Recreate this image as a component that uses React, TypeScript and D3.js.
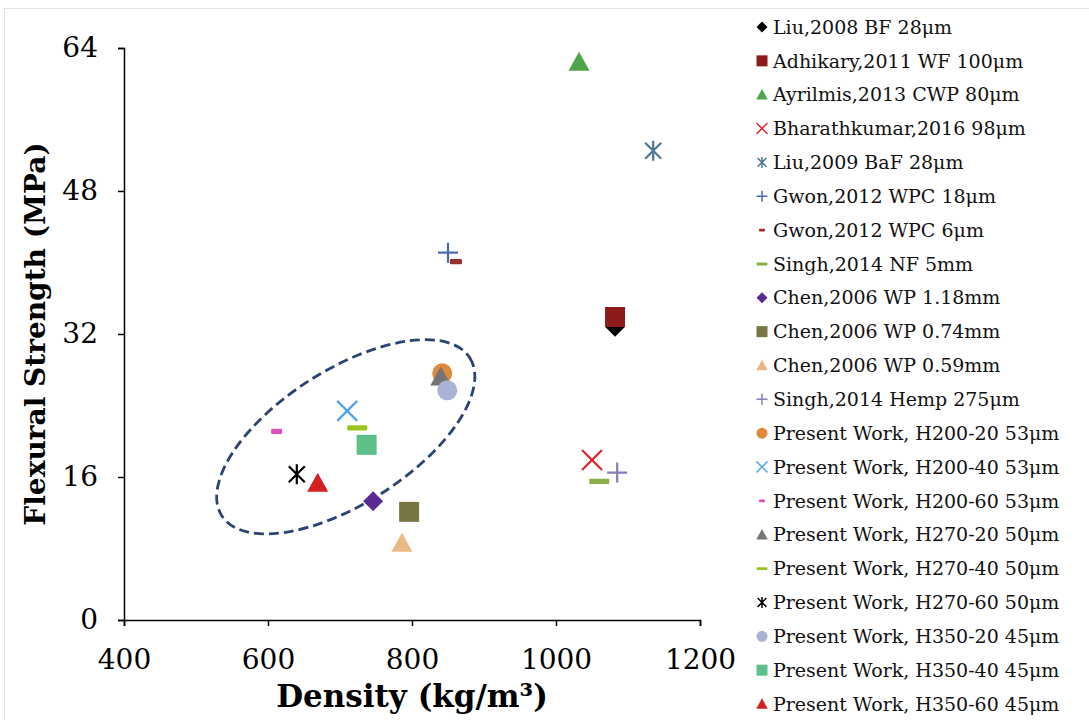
import React, { useEffect, useRef } from "react";
import * as d3 from "d3";

// Series labels, in legend order
const seriesNames = [
  "Liu,2008 BF 28μm",
  "Adhikary,2011 WF 100μm",
  "Ayrilmis,2013 CWP 80μm",
  "Bharathkumar,2016 98μm",
  "Liu,2009 BaF 28μm",
  "Gwon,2012 WPC 18μm",
  "Gwon,2012 WPC 6μm",
  "Singh,2014 NF 5mm",
  "Chen,2006 WP 1.18mm",
  "Chen,2006 WP 0.74mm",
  "Chen,2006 WP 0.59mm",
  "Singh,2014 Hemp 275μm",
  "Present Work, H200-20 53μm",
  "Present Work, H200-40 53μm",
  "Present Work, H200-60 53μm",
  "Present Work, H270-20 50μm",
  "Present Work, H270-40 50μm",
  "Present Work, H270-60 50μm",
  "Present Work, H350-20 45μm",
  "Present Work, H350-40 45μm",
  "Present Work, H350-60 45μm",
];

// Density (kg/m³) per series
const densities = [
  1082, 1082, 1032, 1050, 1135, 850, 861, 1060, 746, 796, 786, 1085,
  842, 710, 612, 840, 724, 640, 849, 737, 669,
];

// Flexural strength (MPa) per series
const strengths = [
  32.8, 33.9, 62.4, 17.9, 52.5, 41.1, 40.1, 15.5, 13.3, 12.1, 8.6, 16.5,
  27.6, 23.4, 21.1, 27.2, 21.5, 16.3, 25.7, 19.6, 15.3,
];

const markerShapes = [
  "diamond", "square", "triangle", "cross", "star", "plus", "dash", "dash",
  "diamond", "square", "triangle", "plus", "circle", "cross", "dash",
  "triangle", "dash", "star", "circle", "square", "triangle",
];

const markerColors = [
  "#000000", "#8E1B1B", "#4FA64A", "#E0242C", "#4E7896", "#4A6AB0",
  "#96302F", "#8AAE48", "#5A2A94", "#787744", "#E8B987", "#8C7DB9",
  "#DE8A3C", "#4DA3EE", "#DD4FBF", "#747474", "#9CC420", "#000000",
  "#A9B3D6", "#5EBF89", "#D42020",
];

// Short dashes drawn narrower for these series
const dashWidths = [0, 0, 0, 0, 0, 0, 12, 20, 0, 0, 0, 0, 0, 0, 11, 0, 20, 0, 0, 0, 0];

const xTicks = [400, 600, 800, 1000, 1200];
const yTicks = [0, 16, 32, 48, 64];

// Dashed ring around the present-work cluster (centre in data units)
const clusterCenter = { density: 708, strength: 20.5 };

const W = 1089;
const H = 720;
const FONT = "'DejaVu Serif', Georgia, serif";

function drawMarker(
  g: d3.Selection<SVGGElement, unknown, null, undefined>,
  shape: string,
  color: string,
  s: number,
  dashW: number
) {
  const h = s / 2;
  switch (shape) {
    case "diamond":
      g.append("path").attr("d", `M0,${-h}L${h},0L0,${h}L${-h},0Z`).attr("fill", color);
      break;
    case "square":
      g.append("rect").attr("x", -h).attr("y", -h).attr("width", s).attr("height", s).attr("fill", color);
      break;
    case "triangle":
      g.append("path")
        .attr("d", `M0,${-h * 1.05}L${h * 1.05},${h * 0.85}L${-h * 1.05},${h * 0.85}Z`)
        .attr("fill", color);
      break;
    case "circle":
      g.append("circle").attr("r", h).attr("fill", color);
      break;
    case "cross":
      g.append("path")
        .attr("d", `M${-h},${-h}L${h},${h}M${-h},${h}L${h},${-h}`)
        .attr("stroke", color)
        .attr("stroke-width", Math.max(1.5, s / 9))
        .attr("fill", "none");
      break;
    case "plus":
      g.append("path")
        .attr("d", `M${-h},0L${h},0M0,${-h}L0,${h}`)
        .attr("stroke", color)
        .attr("stroke-width", Math.max(1.5, s / 9))
        .attr("fill", "none");
      break;
    case "star":
      g.append("path")
        .attr("d", `M${-h * 0.8},${-h * 0.8}L${h * 0.8},${h * 0.8}M${-h * 0.8},${h * 0.8}L${h * 0.8},${-h * 0.8}M0,${-h}L0,${h}`)
        .attr("stroke", color)
        .attr("stroke-width", Math.max(1.5, s / 9))
        .attr("fill", "none");
      break;
    case "dash": {
      const w = dashW || s;
      g.append("rect")
        .attr("x", -w / 2)
        .attr("y", -s * 0.13)
        .attr("width", w)
        .attr("height", s * 0.26)
        .attr("rx", 1)
        .attr("fill", color);
      break;
    }
  }
}

export default function App() {
  const ref = useRef<SVGSVGElement>(null);

  useEffect(() => {
    const svg = d3.select(ref.current);
    svg.selectAll("*").remove();

    svg.append("rect").attr("width", W).attr("height", H).attr("fill", "#ffffff");
    svg.append("rect")
      .attr("x", 4.5).attr("y", 8.5).attr("width", W).attr("height", H)
      .attr("fill", "none").attr("stroke", "#e4e4e4");

    const x = d3.scaleLinear().domain([400, 1200]).range([124, 700]);
    const y = d3.scaleLinear().domain([0, 64]).range([620, 48]);

    // Axes
    const xAxis = svg.append("g")
      .attr("transform", `translate(0,${y(0)})`)
      .call(d3.axisBottom(x).tickValues(xTicks).tickSize(6).tickFormat(d3.format("d")));
    const yAxis = svg.append("g")
      .attr("transform", `translate(${x(400)},0)`)
      .call(d3.axisLeft(y).tickValues(yTicks).tickSize(6).tickFormat(d3.format("d")));

    [xAxis, yAxis].forEach((a) => {
      a.selectAll("path,line").attr("stroke", "#000").attr("stroke-width", 1.5);
      a.selectAll("text")
        .attr("fill", "#000")
        .attr("font-family", FONT)
        .attr("font-size", 28);
    });
    xAxis.selectAll("text").attr("y", 29);
    yAxis.selectAll("text").attr("x", -26);

    // Axis titles
    svg.append("text")
      .attr("x", x(800)).attr("y", 707)
      .attr("text-anchor", "middle")
      .attr("font-family", FONT).attr("font-weight", "bold").attr("font-size", 31)
      .text("Density (kg/m³)");
    svg.append("text")
      .attr("transform", `translate(45,${y(32)}) rotate(-90)`)
      .attr("text-anchor", "middle")
      .attr("font-family", FONT).attr("font-weight", "bold").attr("font-size", 28)
      .text("Flexural Strength (MPa)");

    // Cluster ring
    svg.append("ellipse")
      .attr("transform", `translate(${x(clusterCenter.density)},${y(clusterCenter.strength)}) rotate(-32.5)`)
      .attr("rx", 147).attr("ry", 67)
      .attr("fill", "none")
      .attr("stroke", "#2C4373")
      .attr("stroke-width", 2.8)
      .attr("stroke-dasharray", "10,5");

    // Points
    seriesNames.forEach((_, i) => {
      const g = svg.append("g").attr("transform", `translate(${x(densities[i])},${y(strengths[i])})`);
      drawMarker(g, markerShapes[i], markerColors[i], 20, dashWidths[i]);
    });

    // Legend
    const legend = svg.append("g");
    seriesNames.forEach((name, i) => {
      const cy = 27 + i * 33.85;
      const mg = legend.append("g").attr("transform", `translate(762,${cy})`);
      drawMarker(mg, markerShapes[i], markerColors[i], 11, markerShapes[i] === "dash" ? (dashWidths[i] > 12 ? 11 : 6) : 0);
      legend.append("text")
        .attr("x", 773).attr("y", cy)
        .attr("dy", "0.35em")
        .attr("font-family", FONT).attr("font-size", 19)
        .attr("fill", "#111")
        .text(name);
    });
  }, []);

  return (
    <svg
      ref={ref}
      width={W}
      height={H}
      style={{ position: "absolute", left: 0, top: 0, display: "block" }}
    />
  );
}
